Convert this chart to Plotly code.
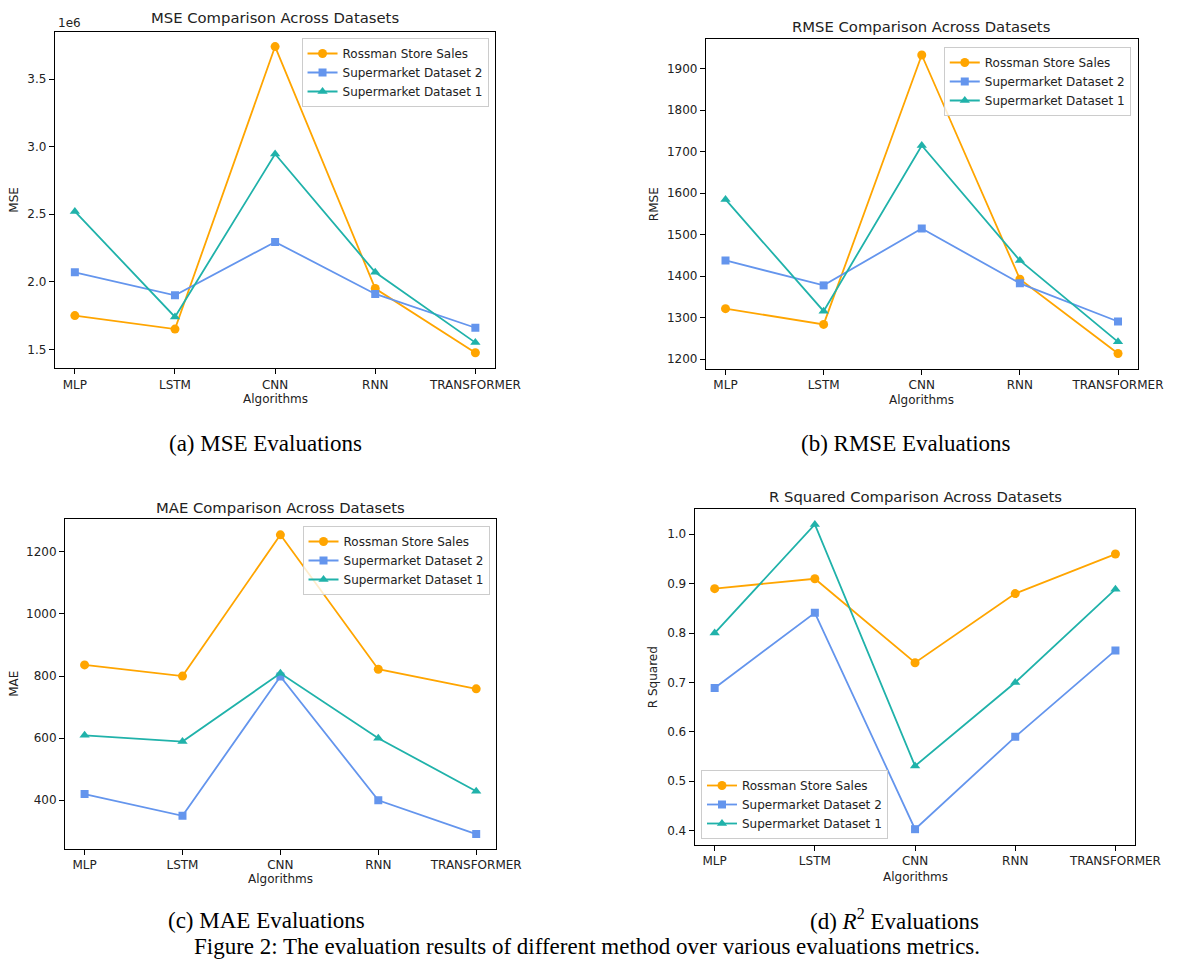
import plotly.graph_objects as go

algorithms = ["MLP", "LSTM", "CNN", "RNN", "TRANSFORMER"]
series_names = ["Rossman Store Sales", "Supermarket Dataset 2", "Supermarket Dataset 1"]

# MSE in units of 1e6
mse_rossman = [1.75, 1.65, 3.74, 1.95, 1.475]
mse_super2 = [2.07, 1.90, 2.295, 1.91, 1.66]
mse_super1 = [2.52, 1.74, 2.945, 2.07, 1.55]

rmse_rossman = [1322, 1284, 1933, 1393, 1214]
rmse_super2 = [1438, 1378, 1515, 1383, 1291]
rmse_super1 = [1585, 1316, 1715, 1438, 1242]

mae_rossman = [836, 800, 1255, 822, 759]
mae_super2 = [420, 350, 799, 400, 291]
mae_super1 = [609, 589, 809, 600, 429]

r2_rossman = [0.89, 0.91, 0.74, 0.88, 0.96]
r2_super2 = [0.689, 0.841, 0.403, 0.59, 0.765]
r2_super1 = [0.80, 1.02, 0.531, 0.70, 0.889]

W, H = 1192, 959
def px(x):
    return x / W
def py(y):
    return 1 - y / H

colors = ["#FFA500", "#6495ED", "#20B2AA"]
symbols = ["circle", "square", "triangle-up"]
msizes = [9, 8, 9]
FONT = "DejaVu Sans"

panels = [
    dict(data=[mse_rossman, mse_super2, mse_super1], title="MSE Comparison Across Datasets",
         ylabel="MSE", xdom=(56, 506), ydom=(31.7, 368.3), yrange=(1.36, 3.85), dtick=0.5, fmt=".1f",
         title_xy=(281, 18), xlabel_y=399, ylabel_x=14, legend=dict(x=499, y=38, anchor=("right", "top"))),
    dict(data=[rmse_rossman, rmse_super2, rmse_super1], title="RMSE Comparison Across Datasets",
         ylabel="RMSE", xdom=(721, 1162), ydom=(39.3, 369), yrange=(1176.6, 1970.8), dtick=100, fmt="d",
         title_xy=(941, 27), xlabel_y=400, ylabel_x=668, legend=dict(x=1155, y=47, anchor=("right", "top"))),
    dict(data=[mae_rossman, mae_super2, mae_super1], title="MAE Comparison Across Datasets",
         ylabel="MAE", xdom=(66.4, 506.4), ydom=(519.3, 849), yrange=(243, 1305), dtick=200, fmt="d",
         title_xy=(286, 507), xlabel_y=879, ylabel_x=14, legend=dict(x=500, y=526, anchor=("right", "top"))),
    dict(data=[r2_rossman, r2_super2, r2_super1], title="R Squared Comparison Across Datasets",
         ylabel="R Squared", xdom=(709.5, 1159.8), ydom=(509.3, 845), yrange=(0.371, 1.0506), dtick=0.1, fmt=".1f",
         title_xy=(935, 496), xlabel_y=877, ylabel_x=667, legend=dict(x=716, y=839, anchor=("left", "bottom"))),
]

fig = go.Figure()
layout = dict(
    width=W, height=H, margin=dict(l=0, r=0, t=0, b=0),
    paper_bgcolor="white", plot_bgcolor="white",
    font=dict(family=FONT, size=12, color="#222222"),
    annotations=[],
)

for i, p in enumerate(panels):
    n = "" if i == 0 else str(i + 1)
    leg = "legend" + n
    for j in range(3):
        fig.add_trace(go.Scatter(
            x=algorithms, y=p["data"][j], name=series_names[j],
            mode="lines+markers",
            line=dict(color=colors[j], width=1.8),
            marker=dict(color=colors[j], symbol=symbols[j], size=msizes[j]),
            xaxis="x" + n, yaxis="y" + n, legend=leg,
        ))
    axis_common = dict(showline=True, mirror=True, linecolor="black", linewidth=1,
                       ticks="outside", ticklen=5, tickcolor="black", tickwidth=1,
                       showgrid=False, zeroline=False,
                       tickfont=dict(family=FONT, size=12, color="#222222"))
    layout["xaxis" + n] = dict(domain=[px(p["xdom"][0]), px(p["xdom"][1])], anchor="y" + n,
                               type="category", range=[-0.2, 4.2], **axis_common)
    layout["yaxis" + n] = dict(domain=[py(p["ydom"][1]), py(p["ydom"][0])], anchor="x" + n,
                               range=list(p["yrange"]), dtick=p["dtick"], tickformat=p["fmt"], **axis_common)
    lg = p["legend"]
    layout[leg] = dict(x=px(lg["x"]), y=py(lg["y"]), xanchor=lg["anchor"][0], yanchor=lg["anchor"][1],
                       bgcolor="rgba(255,255,255,0.8)", bordercolor="#cccccc", borderwidth=1,
                       font=dict(family=FONT, size=12, color="#222222"), tracegroupgap=0)
    xc = (p["xdom"][0] + p["xdom"][1]) / 2
    layout["annotations"] += [
        dict(text=p["title"], x=px(p["title_xy"][0]), y=py(p["title_xy"][1]), xref="paper", yref="paper",
             showarrow=False, xanchor="center", yanchor="middle", font=dict(family=FONT, size=14.8, color="#222222")),
        dict(text="Algorithms", x=px(xc), y=py(p["xlabel_y"]), xref="paper", yref="paper",
             showarrow=False, xanchor="center", yanchor="middle", font=dict(family=FONT, size=12, color="#222222")),
        dict(text=p["ylabel"], x=px(p["ylabel_x"]), y=py((p["ydom"][0] + p["ydom"][1]) / 2), xref="paper", yref="paper",
             showarrow=False, xanchor="center", yanchor="middle", textangle=-90,
             font=dict(family=FONT, size=12, color="#222222")),
    ]

# offset label for MSE axis
layout["annotations"].append(dict(text="1e6", x=px(57), y=py(23), xref="paper", yref="paper", showarrow=False,
                                  xanchor="left", yanchor="middle", font=dict(family=FONT, size=12, color="#222222")))

SERIF = "Liberation Serif"
captions = [
    ("(a) MSE Evaluations", 271, 443),
    ("(b) RMSE Evaluations", 925, 443),
    ("(c) MAE Evaluations", 272, 920),
    ("(d) <i>R</i><sup>2</sup> Evaluations", 914, 919),
    ("Figure 2: The evaluation results of different method over various evaluations metrics.", 600, 946.5),
]
for text, x, y in captions:
    layout["annotations"].append(dict(text=text, x=px(x), y=py(y), xref="paper", yref="paper", showarrow=False,
                                      xanchor="center", yanchor="middle",
                                      font=dict(family=SERIF, size=23, color="black")))

fig.update_layout(**layout)
fig.write_html("out.html", config={"displayModeBar": False},
               post_script="document.body.style.margin='0';document.body.style.overflow='hidden';")
